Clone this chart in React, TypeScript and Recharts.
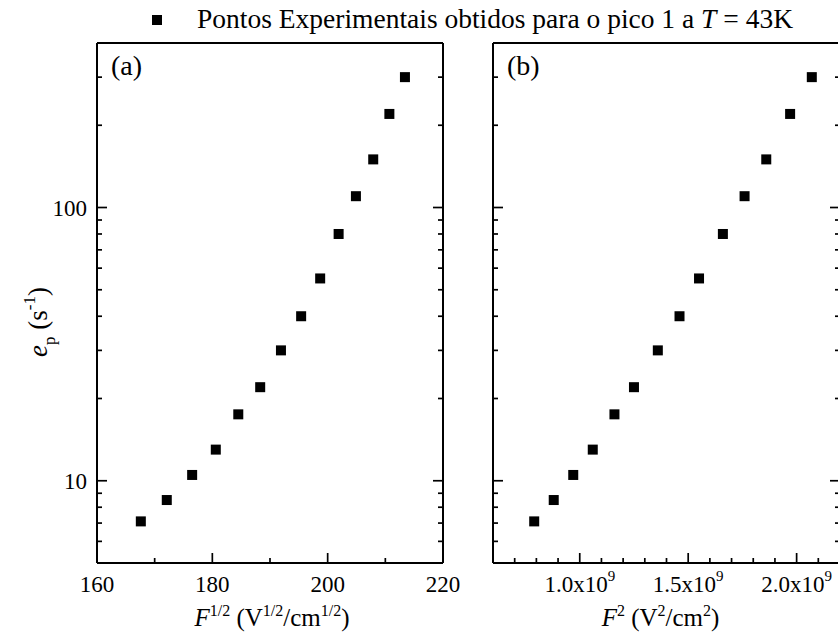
import React from "react";
import { ScatterChart, Scatter, XAxis, YAxis, Legend, Label } from "recharts";

// emission rate e_p (s^-1), same points in both panels
const rateValues = [7.1, 8.5, 10.5, 13, 17.5, 22, 30, 40, 55, 80, 110, 150, 220, 300];
// F^1/2 (V^1/2/cm^1/2)
const sqrtFieldValues = [167.6, 172.1, 176.5, 180.6, 184.5, 188.3, 191.9, 195.4, 198.7, 201.9, 204.9, 207.9, 210.7, 213.4];
// F^2 (V^2/cm^2)
const squaredFieldValues = [0.79e9, 0.88e9, 0.97e9, 1.06e9, 1.16e9, 1.25e9, 1.36e9, 1.46e9, 1.55e9, 1.66e9, 1.76e9, 1.86e9, 1.97e9, 2.07e9];

const rateTicks = [5, 6, 7, 8, 9, 10, 20, 30, 40, 50, 60, 70, 80, 90, 100, 200, 300, 400];
const rateLabels = [10, 100];
const sqrtTicks = [160, 170, 180, 190, 200, 210, 220];
const sqrtLabels = [160, 180, 200, 220];
const squaredTicks = [0.6e9, 0.7e9, 0.8e9, 0.9e9, 1.0e9, 1.1e9, 1.2e9, 1.3e9, 1.4e9, 1.5e9, 1.6e9, 1.7e9, 1.8e9, 1.9e9, 2.0e9, 2.1e9, 2.2e9];
const squaredLabels = [1.0e9, 1.5e9, 2.0e9];

const seriesName = "Pontos Experimentais obtidos para o pico 1 a T = 43K";

const panelA = sqrtFieldValues.map((field, i) => ({ field, rate: rateValues[i] }));
const panelB = squaredFieldValues.map((field, i) => ({ field, rate: rateValues[i] }));

const FONT = "'Liberation Serif', 'Times New Roman', Times, serif";
const TICK_FONT = 23;
const MAJOR = 10;
const MINOR = 5;
const MARKER = 10;

const isMajor = (value: number, labels: number[]) =>
  labels.some((v) => Math.abs(v - value) <= Math.abs(v) * 1e-6);

const plainText = (v: number, x: number, y: number) => (
  <text x={x} y={y} textAnchor="middle" fontFamily={FONT} fontSize={TICK_FONT} fill="#000">
    {v}
  </text>
);

const powerText = (v: number, x: number, y: number) => (
  <text x={x} y={y} textAnchor="middle" fontFamily={FONT} fontSize={TICK_FONT} fill="#000">
    {(v / 1e9).toFixed(1)}x10
    <tspan dy={-11} fontSize={15}>9</tspan>
  </text>
);

const SquareDot = (props: any) => (
  <rect x={props.cx - MARKER / 2} y={props.cy - MARKER / 2} width={MARKER} height={MARKER} fill="#000" />
);

// axes are 1px thick boxes; ticks are drawn inward by hand
const BottomTick = (props: any) => {
  const { x, y, payload, labels, render } = props;
  const major = isMajor(payload.value, labels);
  return (
    <g>
      <line x1={x} x2={x} y1={y} y2={y - (major ? MAJOR : MINOR)} stroke="#000" strokeWidth={1.7} />
      {major && render ? render(payload.value, x, y + 29) : null}
    </g>
  );
};

const TopTick = (props: any) => {
  const { x, y, payload, labels } = props;
  const major = isMajor(payload.value, labels);
  return <line x1={x} x2={x} y1={y} y2={y + (major ? MAJOR : MINOR)} stroke="#000" strokeWidth={1.7} />;
};

const LeftTick = (props: any) => {
  const { x, y, payload, showText } = props;
  const major = isMajor(payload.value, rateLabels);
  return (
    <g>
      <line x1={x} x2={x + (major ? MAJOR : MINOR)} y1={y} y2={y} stroke="#000" strokeWidth={1.7} />
      {major && showText ? (
        <text x={x - 10} y={y} dy="0.35em" textAnchor="end" fontFamily={FONT} fontSize={TICK_FONT} fill="#000">
          {payload.value}
        </text>
      ) : null}
    </g>
  );
};

const RightTick = (props: any) => {
  const { x, y, payload } = props;
  const major = isMajor(payload.value, rateLabels);
  return <line x1={x} x2={x - (major ? MAJOR : MINOR)} y1={y} y2={y} stroke="#000" strokeWidth={1.7} />;
};

const RateTitle = ({ viewBox }: any) => {
  const cx = viewBox.x - 49;
  const cy = viewBox.y + viewBox.height / 2 + 19;
  return (
    <text x={cx} y={cy} transform={`rotate(-90, ${cx}, ${cy})`} textAnchor="middle" fontFamily={FONT} fontSize={27} fill="#000">
      <tspan fontStyle="italic">e</tspan>
      <tspan dy={8} fontSize={17}>p</tspan>
      <tspan dy={-8}> (s</tspan>
      <tspan dy={-12} fontSize={17}>-1</tspan>
      <tspan dy={12}>)</tspan>
    </text>
  );
};

const SqrtTitle = ({ viewBox }: any) => (
  <text x={viewBox.x + viewBox.width / 2 + 2} y={viewBox.y + 63} textAnchor="middle" fontFamily={FONT} fontSize={25} fill="#000">
    <tspan fontStyle="italic">F</tspan>
    <tspan dy={-10} fontSize={16}>1/2</tspan>
    <tspan dy={10}> (V</tspan>
    <tspan dy={-10} fontSize={16}>1/2</tspan>
    <tspan dy={10}>/cm</tspan>
    <tspan dy={-10} fontSize={16}>1/2</tspan>
    <tspan dy={10}>)</tspan>
  </text>
);

const SquaredTitle = ({ viewBox }: any) => (
  <text x={viewBox.x + viewBox.width / 2 - 6} y={viewBox.y + 63} textAnchor="middle" fontFamily={FONT} fontSize={25} fill="#000">
    <tspan fontStyle="italic">F</tspan>
    <tspan dy={-10} fontSize={16}>2</tspan>
    <tspan dy={10}> (V</tspan>
    <tspan dy={-10} fontSize={16}>2</tspan>
    <tspan dy={10}>/cm</tspan>
    <tspan dy={-10} fontSize={16}>2</tspan>
    <tspan dy={10}>)</tspan>
  </text>
);

const PanelTag = (tag: string) => ({ viewBox }: any) => (
  <text x={viewBox.x + 14} y={viewBox.y + 33} fontFamily={FONT} fontSize={28} fill="#000">
    {tag}
  </text>
);

const SeriesKey = () => (
  <svg width={700} height={40} style={{ display: "block" }}>
    <rect x={12} y={15} width={MARKER} height={MARKER} fill="#000" />
    <text x={57} y={28} fontFamily={FONT} fontSize={27.5} fill="#000">
      Pontos Experimentais obtidos para o pico 1 a <tspan fontStyle="italic">T</tspan> = 43K
    </text>
  </svg>
);

const axisLine = { stroke: "#000", strokeWidth: 2 };

type PanelProps = {
  data: { field: number; rate: number }[];
  xTicks: number[];
  xLabels: number[];
  xDomain: [number, number];
  xText: (v: number, x: number, y: number) => React.ReactNode;
  title: (p: any) => React.ReactNode;
  tag: string;
  width: number;
  margin: { top: number; right: number; bottom: number; left: number };
  showRateText: boolean;
  withKey?: boolean;
};

const Panel = ({ data, xTicks, xLabels, xDomain, xText, title, tag, width, margin, showRateText, withKey }: PanelProps) => (
  <ScatterChart width={width} height={639} margin={margin}>
    <XAxis
      type="number"
      dataKey="field"
      domain={xDomain}
      ticks={xTicks}
      interval={0}
      allowDataOverflow
      height={1}
      tickSize={0}
      tickMargin={0}
      axisLine={axisLine}
      tickLine={false}
      tick={(p: any) => <BottomTick {...p} labels={xLabels} render={xText} />}
    >
      <Label content={title} />
    </XAxis>
    <XAxis
      xAxisId="top"
      orientation="top"
      type="number"
      domain={xDomain}
      ticks={xTicks}
      interval={0}
      allowDataOverflow
      height={1}
      tickSize={0}
      tickMargin={0}
      axisLine={axisLine}
      tickLine={false}
      tick={(p: any) => <TopTick {...p} labels={xLabels} />}
    >
      <Label content={PanelTag(tag)} />
    </XAxis>
    <YAxis
      type="number"
      dataKey="rate"
      scale="log"
      domain={[5, 400]}
      ticks={rateTicks}
      interval={0}
      allowDataOverflow
      width={1}
      tickSize={0}
      tickMargin={0}
      axisLine={axisLine}
      tickLine={false}
      tick={(p: any) => <LeftTick {...p} showText={showRateText} />}
    >
      {showRateText ? <Label content={RateTitle} /> : null}
    </YAxis>
    <YAxis
      yAxisId="right"
      orientation="right"
      type="number"
      scale="log"
      domain={[5, 400]}
      ticks={rateTicks}
      interval={0}
      allowDataOverflow
      width={1}
      tickSize={0}
      tickMargin={0}
      axisLine={axisLine}
      tickLine={false}
      tick={(p: any) => <RightTick {...p} />}
    />
    {withKey ? (
      <Legend
        layout="horizontal"
        verticalAlign="middle"
        align="center"
        content={() => <SeriesKey />}
        wrapperStyle={{ position: "absolute", left: 140, top: 0, width: 700, height: 40 }}
      />
    ) : null}
    <Scatter name={seriesName} data={data} fill="#000" shape={SquareDot} isAnimationActive={false} />
  </ScatterChart>
);

export default function App() {
  return (
    <div
      style={{
        position: "absolute",
        left: 0,
        top: 0,
        width: 838,
        height: 639,
        overflow: "hidden",
        background: "#fff",
      }}
    >
      <div style={{ position: "absolute", left: 0, top: 0 }}>
        <Panel
          data={panelA}
          xTicks={sqrtTicks}
          xLabels={sqrtLabels}
          xDomain={[160, 220]}
          xText={plainText}
          title={SqrtTitle}
          tag="(a)"
          width={460}
          margin={{ top: 42, right: 16, bottom: 75, left: 96 }}
          showRateText
          withKey
        />
      </div>
      <div style={{ position: "absolute", left: 470, top: 0 }}>
        <Panel
          data={panelB}
          xTicks={squaredTicks}
          xLabels={squaredLabels}
          xDomain={[0.6e9, 2.2e9]}
          xText={powerText}
          title={SquaredTitle}
          tag="(b)"
          width={390}
          margin={{ top: 42, right: 19, bottom: 75, left: 22 }}
          showRateText={false}
        />
      </div>
    </div>
  );
}
